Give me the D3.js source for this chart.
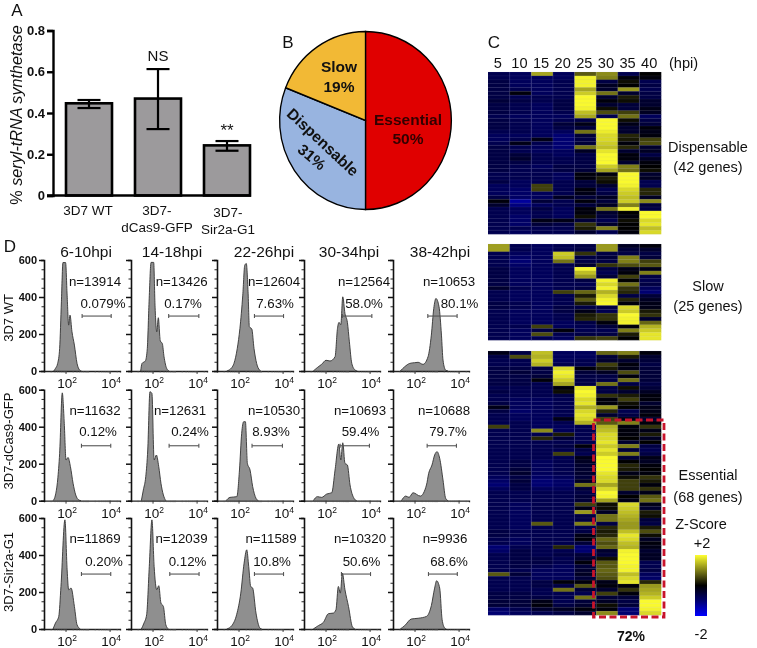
<!DOCTYPE html>
<html><head><meta charset="utf-8">
<script src="https://cdn.jsdelivr.net/npm/d3@7/dist/d3.min.js"></script>
<style>html,body{margin:0;background:#fff}svg{display:block;filter:blur(.35px)}text{font-family:"Liberation Sans",Arial,sans-serif;fill:#111}</style>
</head><body><div id="chart"></div>
<script>
// ---- Panel A
const barNames = [["3D7 WT"],["3D7-","dCas9-GFP"],["3D7-","Sir2a-G1"]];
const barValues = [0.447,0.470,0.243];
const barLow = [0.424,0.322,0.217];
const barHigh = [0.463,0.613,0.264];
const barMarks = ["","NS","**"];
const barTicks = [0,0.2,0.4,0.6,0.8];
// ---- Panel B
const pieNames = ["Essential","Dispensable","Slow"];
const pieShares = [50,31,19];
const pieColors = ["#e00000","#98b4e0","#f2b935"];
// ---- Panel C
const hpi = [5,10,15,20,25,30,35,40];
const heatDispensable = [
[-.7,-.8,1.3,-.8,.7,1.1,-.7,0],[-.7,-.8,-.8,-.8,1.9,1.0,-.1,-.1],[-.6,-.8,-.8,-.7,1.9,-.6,.1,-.7],[-.6,-.8,-.8,-.7,1.9,-.3,0,-.6],
[-.6,-.7,-.8,-.7,1.3,-.4,1.2,-.7],[-.6,-.1,-.8,-.7,1.6,.9,-.4,-.6],[-.6,-.7,-.7,-.7,1.95,-.4,.2,-.6],[-.5,-.6,-.7,-.6,1.95,-.1,.1,-.4],
[-.6,-.7,-.8,-.6,1.95,-.4,-.5,-.4],[-.6,-.7,-.8,-.6,1.9,.1,-.5,-.2],[-.6,-.7,-.8,-.7,1.5,.6,.5,-.3],[-.7,-.8,-.8,-.8,1.3,-.7,.9,-.8],
[-.6,-.7,-.8,-.7,-.6,1.95,.1,-.6],[-.6,-.7,-.8,-.5,-.2,1.95,-.2,-.5],[-.6,-.7,-.8,-.6,-.5,1.95,-.4,-.1],[-.7,-.7,-.8,-.8,.9,1.85,-.4,-.2],
[-.8,-.8,-.8,-1,-.5,1.7,.3,-.1],[-.8,-.7,-.2,-1,-.6,1.7,.2,.5],[-.7,-.2,-.7,-1,-.5,1.6,-.1,.6],[-.6,-.7,-.8,-1,.9,1.5,.3,-.4],
[-.6,-.7,-.8,-.8,-.3,1.8,-.4,-.3],[-.6,-.5,-.7,-.8,-.6,1.95,-.1,-.6],[-.6,-.4,-.7,-.7,-.6,1.95,-.1,-.3],[-.6,-.6,-.7,-.7,-.6,1.95,-.4,-.1],
[-.6,-.7,-.8,-.6,-.6,1.6,1.0,0],[-.6,-.7,-.7,-.6,-.5,1.3,.9,.1],[-.7,-.7,-.7,-.8,-.1,-.1,1.95,-.4],[-.7,-.7,-.7,-.8,-.1,.2,1.95,-.3],
[-.6,-.8,-.7,-.7,-.5,.1,1.95,-.7],[-.8,-.8,.5,-.7,-.5,-.4,1.9,-.7],[-.8,-.9,.5,-.7,-.1,-.7,1.7,.3],[-.8,-.9,-.8,-.7,-.2,-.6,1.6,.3],
[-.6,-.9,-.8,-.3,-.5,-.3,1.5,-.3],[-.1,-1.3,-.5,-.7,-.1,-.5,1.6,1.1],[-.4,-1.1,-.8,-.7,-.5,-.3,1.0,-.5],[-.7,-.8,-.6,-.8,-.1,.9,1.9,-.6],
[-.7,-.8,-.7,-.8,-.1,-.4,0,1.95],[-.7,-.9,-.7,-.8,.1,-.5,-.1,1.95],[-.7,-.9,-.2,-.2,-.5,-.7,.1,1.7],[-.7,-.9,-.5,-.6,.4,-.4,0,1.8],
[-.7,-.7,-.7,-.7,.2,1.0,0,1.5],[-.7,-.8,-.7,-.7,-.4,-.7,-.1,1.7]];
const heatSlow = [
[1.25,-.7,-.8,-.7,-.6,1.2,-.3,-.1],[1.25,-.7,-.8,-.7,-.6,1.2,-.5,-.4],[-.7,-.8,-.8,1.6,.4,-.6,-.6,-.6],[-.7,-.9,-.8,1.5,-.6,-.5,1.0,-.5],
[-.7,-1,-.8,.9,-.6,-.6,1.0,.5],[-.7,-.9,-.8,-.7,-.4,.4,.6,.7],[-.6,-.8,-.8,-.7,1.9,-.6,-.2,-.2],[-.6,-.8,-.8,-.7,1.5,-.7,-.1,1.0],
[-.6,-.8,-.8,-.7,1.2,-.5,.5,-.6],[-.6,-.8,-.8,-.7,-.6,1.9,0,-.7],[-.6,-.8,-.8,-.7,-.7,1.7,.9,-.6],[-.4,-.7,-.8,-.7,-.6,1.9,.4,-.8],
[-.7,-.8,-.8,.5,.8,1.4,.3,-1],[-.7,-.8,-.8,-.7,.2,1.7,-.6,-.5],[-.7,-.8,-.8,-.7,.7,1.9,.3,-.3],[-.6,-.7,-.8,-.7,.2,1.95,-.1,-.2],
[-.6,-.7,-.8,-.6,-.6,-.6,1.7,-.2],[-.7,-.8,-.8,-.6,-.2,-.7,1.6,.2],[-.7,-.8,-.8,-.7,.2,.4,1.95,.4],[-.7,-.8,-.8,-.7,.3,.4,1.9,-.4],
[-.7,-.8,-.8,-.8,-.6,-.1,1.9,.8],[-.7,-.7,.5,-.8,-.7,-.5,-.1,1.4],[-.7,-.8,-.6,-.1,-.7,-.7,1.0,1.6],[-.7,-.8,.6,-.7,-.6,-.6,.2,1.8],
[-.7,-.8,-.7,-.8,.4,.5,0,1.8]];
const heatEssential = [
[-.2,-.6,1.5,-.8,-.8,.8,1.0,-.1],[-.6,.6,1.4,-.8,-.8,-.5,.2,-.4],[-.7,-.7,1.6,-.8,-.7,-.4,-.4,-.5],[-.7,-.7,1.4,-.7,-.7,.5,-.1,-.6],
[-.6,-.6,-.6,1.7,-.1,.2,-.2,-.5],[-.6,-.5,-.6,1.9,-.5,-.3,.6,-.5],[-.6,-.6,-.5,1.8,-.6,-.6,-.1,-.5],[-.6,-.6,-.1,1.6,-.6,-.6,.9,-.5],
[-.6,-.6,-.7,1.3,-.6,.9,-.6,-.6],[-.7,-.7,-.7,-.1,1.8,-.6,.1,-.5],[-.6,-.7,-.7,.1,1.95,-.6,-.4,-.3],[-.7,-.7,-.7,-.6,1.9,.4,.2,-.1],
[-.7,-.8,-.8,-.7,1.7,-.1,.5,-.1],[-.6,-.8,-.8,-.7,1.8,-.1,.1,-.4],[-.2,-.8,-.8,-.7,1.4,1.2,0,-.2],[-.6,-.9,-.8,-.7,1.7,.3,-.7,-.2],
[-.7,-.8,-.8,-.7,1.8,-.4,-.6,-.1],[-.7,-.8,-.8,-.2,1.7,.5,-.2,-.4],[-.7,-.7,-.8,-.7,1.4,.7,1.0,-.1],[.5,-.7,-.8,-.8,-.7,1.4,-.1,.4],
[-.7,-.7,1.1,-.8,-.7,1.5,-.1,-.2],[-.7,-.7,-.7,.2,-.7,1.7,-.1,.2],[-.7,-.7,.3,-.5,-.7,1.7,0,-.3],[-.7,-.7,-.7,-.7,-.7,1.8,-.4,0],
[-.7,-.7,-.7,-.6,-.1,1.6,1.0,-.6],[-.7,-.7,-.7,-.7,-.6,1.8,-.5,-.7],[-.7,-.7,-.7,.5,-.7,1.6,1.0,-.6],[-.7,-.7,-.7,-.7,-.2,1.95,-.5,-.2],
[-.7,-.6,-.8,-.7,-.3,1.95,0,-.3],[-.7,-.6,-.8,-.7,-.4,1.95,.3,-.1],[-.7,-.5,-.8,-.7,-.4,1.95,.2,0],[-.7,-.4,-.8,-.7,-.4,1.8,-.2,-.1],
[-.8,-.6,-.9,-.8,-.5,1.7,.1,.4],[-.9,-.5,-1,-.9,-.3,1.7,.5,.2],[-1,-.6,-1,-.9,.9,1.3,.5,-.1],[-.8,-.6,-.8,-.8,-.5,1.7,.5,.4],
[-.7,-.7,-.7,-.7,-.6,1.95,-.4,-.2],[-.7,-.7,-.7,-.7,-.5,1.9,0,.7],[-.7,-.7,-.7,-.7,-.5,1.3,-.2,.9],[-.7,-.8,-.7,-.7,.5,.1,1.7,-.2],
[-.7,-.8,-.7,-.7,-.2,.1,1.6,-.4],[-.7,-.8,-.7,-.7,1.2,-.3,1.5,.2],[-.7,-.8,-.7,-.7,-.6,.9,1.4,.1],[-.7,-.8,-.7,-.7,-.6,.9,1.3,-.5],
[-.7,-.8,.7,-.7,1.0,-.6,1.2,-.6],[-.7,-.8,-.7,-.7,-.7,.3,1.2,.2],[-.6,-.7,-.7,-.7,-.6,.2,1.5,.6],[-.6,-.7,-.7,-.7,-.2,.3,1.8,.1],
[-.7,-.8,-.7,-.7,-.1,.8,1.7,-.3],[-.7,-.8,-.7,-.7,-.5,.6,1.5,-.1],[-1,-.7,-.7,.3,-1,.8,1.4,-.2],[-.9,-.6,-.7,-.7,-1,-.4,1.9,-.4],
[-.7,-.6,-.7,-.6,-.5,-.5,1.95,-.3],[-.7,-.6,-.6,-.7,-.4,.1,1.95,-.3],[-.7,-.6,-.6,-.7,-.1,.7,1.95,-.7],[-.7,-.6,-.7,-.8,-.5,.7,1.9,-.7],
[-.7,-.7,-.8,-.8,-.4,.8,1.9,-.6],[.7,-.5,-.8,-.8,-.3,.7,1.5,-.8],[-.7,-.7,-.8,-.8,-.5,.6,1.7,-.9],[-.7,-.7,-.6,-.1,-.1,-.2,1.8,.3],
[-.7,-.7,-.6,-.6,.7,-.1,-.1,1.2],[-.7,-.7,-.7,.9,-.5,-.4,.4,1.3],[-.6,-.6,-.7,-.7,-.7,.5,-.1,1.4],[-.6,-.6,-.6,-.7,.9,-.5,-.5,1.6],
[-.5,-.5,-.2,-.7,-.5,-.3,-.6,1.95],[-.5,-.5,-.1,-.6,-.4,.1,-.5,1.95],[-.9,-.7,-.4,-.3,-.1,-.1,-1,1.9],[-1,-.8,-.7,-.6,-.4,1.1,-1,1.7]];
const zoneLabels = [["Dispensable","(42 genes)"],["Slow","(25 genes)"],["Essential","(68 genes)"]];
// ---- Panel D: [log10 fluorescence, events]
const timeLabels = ["6-10hpi","14-18hpi","22-26hpi","30-34hpi","38-42hpi"];
const strainLabels = ["3D7 WT","3D7-dCas9-GFP","3D7-Sir2a-G1"];
const flowWt = [
[[1.44,0],[1.52,14],[1.62,41],[1.71,122],[1.79,374],[1.86,586],[1.98,586],[2.05,410],[2.12,248],[2.18,302],[2.27,212],[2.38,140],[2.5,41],[2.62,5],[2.7,0]],
[[1.44,0],[1.5,41],[1.65,54],[1.74,122],[1.82,374],[1.91,587],[2.03,587],[2.09,356],[2.17,212],[2.24,288],[2.33,162],[2.42,149],[2.5,77],[2.62,14],[2.73,0]],
[[1.44,0],[1.67,18],[1.77,41],[1.92,122],[2.04,230],[2.17,410],[2.26,572],[2.33,581],[2.41,428],[2.47,239],[2.58,227],[2.68,122],[2.8,41],[2.93,5],[2.99,0]],
[[1.42,0],[1.6,18],[1.8,36],[2,58],[2.18,54],[2.41,77],[2.52,230],[2.59,263],[2.67,250],[2.76,401],[2.86,311],[2.97,263],[3.06,158],[3.17,41],[3.32,5],[3.42,0]],
[[1.33,0],[1.53,23],[1.76,41],[1.98,45],[2.14,47],[2.36,36],[2.59,77],[2.74,194],[2.85,338],[2.95,392],[3.09,347],[3.2,194],[3.27,59],[3.39,5],[3.5,0]]];
const flowDcas = [
[[1.41,0],[1.52,31],[1.62,112],[1.71,256],[1.83,583],[1.92,418],[2,220],[2.09,234],[2.2,184],[2.32,94],[2.44,31],[2.58,4],[2.68,0]],
[[1.47,0],[1.56,58],[1.67,130],[1.76,274],[1.86,589],[1.95,580],[2.05,220],[2.15,247],[2.26,184],[2.36,94],[2.47,31],[2.58,0]],
[[1.41,0],[1.59,18],[1.9,22],[2.02,166],[2.12,364],[2.21,427],[2.29,427],[2.38,202],[2.5,166],[2.62,76],[2.77,13],[2.88,0]],
[[1.42,0],[1.61,22],[1.8,18],[2.03,36],[2.26,43],[2.41,166],[2.58,306],[2.67,220],[2.76,313],[2.86,202],[2.97,193],[3.09,85],[3.27,13],[3.39,0]],
[[1.38,0],[1.58,25],[1.73,18],[1.91,43],[2.24,25],[2.52,85],[2.62,148],[2.77,193],[2.89,247],[3,265],[3.12,229],[3.27,112],[3.39,13],[3.5,0]]];
const flowSir = [
[[1.41,0],[1.52,32],[1.67,68],[1.77,230],[1.95,590],[2.05,320],[2.12,212],[2.23,221],[2.38,122],[2.5,23],[2.65,0]],
[[1.47,0],[1.59,32],[1.71,77],[1.83,338],[1.95,590],[2.05,338],[2.17,212],[2.26,234],[2.36,140],[2.47,122],[2.58,23],[2.7,0]],
[[1.44,0],[1.67,18],[1.89,77],[2.08,194],[2.23,356],[2.35,428],[2.44,338],[2.53,230],[2.62,221],[2.77,86],[2.95,5],[3.03,0]],
[[1.42,0],[1.65,18],[1.88,36],[2.11,83],[2.33,86],[2.45,104],[2.56,230],[2.65,194],[2.74,302],[2.86,212],[3.02,122],[3.2,11],[3.32,0]],
[[1.33,0],[1.53,18],[1.83,54],[2.14,58],[2.52,68],[2.74,126],[2.89,221],[2.98,261],[3.12,221],[3.23,50],[3.35,5],[3.42,0]]];
const flowRows = [flowWt,flowDcas,flowSir];
const gateRanges = [
[[2.73,4.05],[2.71,4.08],[2.70,4.02],[2.74,4.08],[2.58,3.91]],
[[2.70,4.03],[2.73,4.08],[2.59,3.97],[2.64,3.97],[2.55,3.88]],
[[2.70,4.03],[2.76,4.09],[2.70,4.02],[2.70,4.02],[2.61,3.92]]];
const gateLevel = [297,297,297];
const eventCounts = [[13914,13426,12604,12564,10653],[11632,12631,10530,10693,10688],[11869,12039,11589,10320,9936]];
const percentLabels = [["0.079%","0.17%","7.63%","58.0%","80.1%"],["0.12%","0.24%","8.93%","59.4%","79.7%"],["0.20%","0.12%","10.8%","50.6%","68.6%"]];

// ---- layout (separate from the data)
const svg = d3.select("#chart").append("svg").attr("width",757).attr("height",648).attr("viewBox","0 0 757 648");
const txt = (g,x,y,s,size,opt={}) => g.append("text").attr("x",x).attr("y",y).attr("text-anchor",opt.anchor||"middle")
  .attr("dominant-baseline","central").attr("font-size",size).attr("font-weight",opt.bold?"bold":null).attr("font-style",opt.italic?"italic":null).text(s);

[["A",17,10],["B",288,42],["C",494,42],["D",10,246]].forEach(d=>txt(svg,d[1],d[2],d[0],17));

// Panel A
{
  const g = svg.append("g");
  const y = d3.scaleLinear().domain([0,0.8]).range([195.5,30.5]);
  const xc = i => [89,158,227][i];
  const bw = 46;
  g.selectAll("rect.bar").data(barValues).join("rect").attr("x",(d,i)=>xc(i)-bw/2).attr("width",bw)
    .attr("y",d=>y(d)).attr("height",d=>y(0)-y(d)).attr("fill","#9c9a9c").attr("stroke","#000").attr("stroke-width",2.6);
  barValues.forEach((v,i)=>{
    const cx = xc(i);
    g.append("line").attr("x1",cx).attr("x2",cx).attr("y1",y(barLow[i])).attr("y2",y(barHigh[i])).attr("stroke","#000").attr("stroke-width",2.2);
    [barLow[i],barHigh[i]].forEach(e=>g.append("line").attr("x1",cx-11.5).attr("x2",cx+11.5).attr("y1",y(e)).attr("y2",y(e)).attr("stroke","#000").attr("stroke-width",2.2));
    barNames[i].forEach((s,k)=>txt(g,[88,157,228][i],[210,210,212][i]+k*17,s,13.5));
  });
  const ax = g.append("g").attr("transform","translate(53,0)").call(d3.axisLeft(y).tickValues(barTicks).tickSize(6).tickFormat(d=>d===0?"0":d3.format(".1f")(d)));
  ax.selectAll("path,line").attr("stroke","#000").attr("stroke-width",2.4);
  ax.selectAll("text").attr("font-size",13).attr("font-weight","bold").attr("font-family",'"Liberation Sans"').attr("x",-8);
  g.append("line").attr("x1",47).attr("x2",251).attr("y1",y(0)).attr("y2",y(0)).attr("stroke","#000").attr("stroke-width",2.4);
  txt(g,158,55,barMarks[1],15);
  txt(g,227,130,barMarks[2],17);
  const t = g.append("text").attr("transform","translate(16,115) rotate(-90)").attr("text-anchor","middle").attr("dominant-baseline","central").attr("font-size",16.2);
  t.append("tspan").text("% ");
  t.append("tspan").attr("font-style","italic").text("seryl-tRNA synthetase");
}

// Panel B
{
  const g = svg.append("g").attr("transform","translate(365.5,120.5) scale(.965,1)");
  const pie = d3.pie().sort(null)(pieShares);
  const arc = d3.arc().innerRadius(0).outerRadius(89);
  g.selectAll("path").data(pie).join("path").attr("d",arc).attr("fill",(d,i)=>pieColors[i]).attr("stroke","#000").attr("stroke-width",1.4);
  const lab = svg.append("g");
  const boldT = (x,y,s,rot=0)=>lab.append("text").attr("transform",`translate(${x},${y}) rotate(${rot})`).attr("text-anchor","middle").attr("dominant-baseline","central").attr("font-size",15.5).attr("font-weight","bold").text(s);
  boldT(339,66,pieNames[2]); boldT(339,86,pieShares[2]+"%");
  boldT(408,119,pieNames[0]).style("fill","#300"); boldT(408,138.5,pieShares[0]+"%").style("fill","#300");
  boldT(323,142,pieNames[1],43); boldT(312,157,pieShares[1]+"%",40);
}

// Panel C
{
  const g = svg.append("g");
  const color = d3.scaleLinear().domain([-2,-1,0,2]).range(["#0000ff","#000070","#000000","#ffff30"]).clamp(true);
  const x = d3.scaleBand().domain(hpi).range([488,661]);
  const blocks = [[heatDispensable,72,234],[heatSlow,244,340],[heatEssential,351,615]];
  blocks.forEach(([rows,y0,y1],bi)=>{
    const y = d3.scaleBand().domain(d3.range(rows.length)).range([y0,y1]);
    const b = g.append("g");
    rows.forEach((r,ri)=>b.selectAll(null).data(r).join("rect").attr("x",(d,i)=>x(hpi[i])).attr("y",y(ri)).attr("width",x.bandwidth()+.3).attr("height",y.bandwidth()+.3).attr("fill",d=>color(d)));
    b.selectAll("line.h").data(d3.range(rows.length+1)).join("line").attr("x1",488).attr("x2",661).attr("y1",d=>y0+d*y.step()).attr("y2",d=>y0+d*y.step()).attr("stroke","#9a9ad8").attr("stroke-opacity",.16).attr("stroke-width",.6);
    b.selectAll("line.v").data(hpi.slice(1)).join("line").attr("x1",d=>x(d)).attr("x2",d=>x(d)).attr("y1",y0).attr("y2",y1).attr("stroke","#a8a8e0").attr("stroke-opacity",.3).attr("stroke-width",.7);
  });
  hpi.forEach(h=>txt(g,x(h)+x.bandwidth()/2-1,63,String(h),14.6));
  txt(g,669,63,"(hpi)",14.6,{anchor:"start"});
  [[147,167],[286,306],[475,497]].forEach((ys,i)=>zoneLabels[i].forEach((s,k)=>txt(g,708,ys[k],s,14.5)));
  g.append("rect").attr("x",593.5).attr("y",420).attr("width",70.5).attr("height",197).attr("fill","none").attr("stroke","#c8142c").attr("stroke-width",2.8).attr("stroke-dasharray","7 3.5");
  const defs = svg.append("defs");
  const grad = defs.append("linearGradient").attr("id","zgrad").attr("x1",0).attr("x2",0).attr("y1",0).attr("y2",1);
  [2,1,0,-1,-2].forEach((z,i)=>grad.append("stop").attr("offset",(i/4*100)+"%").attr("stop-color",color(z)));
  g.append("rect").attr("x",695).attr("y",555).attr("width",12).attr("height",61).attr("fill","url(#zgrad)");
  txt(g,701,524,"Z-Score",14.5); txt(g,702,543,"+2",14.5); txt(g,701,634,"-2",14.5);
  txt(g,631,636,"72%",14,{bold:true});
}

// Panel D
{
  const g = svg.append("g");
  const axisX = [44,131,217,304,393];
  const zeroY = [371,500.7,629];
  const titleX = [86,172,264,349,440];
  const nX = [[95,181.7,274,364,449],[95,180,274,360,444],[95,181.5,271,360,445]];
  const pX = [[103,183,275,364,459.5],[98,190,271,360.5,448],[104,187.5,272,361.5,449]];
  const nY = [281,410,538], pY = [303,431,561];
  const rowLabelY = [318,441,572];
  timeLabels.forEach((s,i)=>txt(g,titleX[i],251,s,15.5));
  strainLabels.forEach((s,i)=>g.append("text").attr("transform",`translate(8,${rowLabelY[i]}) rotate(-90)`).attr("text-anchor","middle").attr("dominant-baseline","central").attr("font-size",13).text(s));
  const minors = [];
  for (let e=1;e<=4;e++) for (let m=1;m<10;m++) { const v=m*10**e; if (v<10**4.45) minors.push(v); }
  const yTicks = d3.range(0,601,50);
  flowRows.forEach((row,r)=>row.forEach((pts,c)=>{
    const p = g.append("g").attr("transform",`translate(${axisX[c]},${zeroY[r]})`);
    const x = d3.scaleLog().domain([10,10**4.45]).range([0,76]);
    const y = d3.scaleLinear().domain([0,600]).range([0,-111]);
    const area = d3.area().x(d=>x(10**d[0])).y0(0).y1(d=>y(d[1])).curve(d3.curveMonotoneX);
    const line = d3.line().x(d=>x(10**d[0])).y(d=>y(d[1])).curve(d3.curveMonotoneX);
    p.append("path").attr("d",area(pts)).attr("fill","#8f8f8f");
    p.append("path").attr("d",line(pts)).attr("fill","none").attr("stroke","#333").attr("stroke-width",.9);
    const [a,b] = gateRanges[r][c], gy = y(gateLevel[r]);
    const gate = p.append("g").attr("stroke","#555").attr("stroke-width",1.1);
    gate.append("line").attr("x1",x(10**a)).attr("x2",x(10**b)).attr("y1",gy).attr("y2",gy);
    [a,b].forEach(v=>gate.append("line").attr("x1",x(10**v)).attr("x2",x(10**v)).attr("y1",gy-2).attr("y2",gy+2));
    const ax = p.append("g").call(d3.axisBottom(x).tickValues(minors).tickSize(1.5).tickFormat(""));
    ax.selectAll("line").attr("stroke","#555").attr("stroke-width",.6);
    ax.selectAll("path").attr("stroke","#222").attr("stroke-width",1.3);
    [[100,"2"],[10000,"4"]].forEach(([v,sup])=>{
      p.append("line").attr("x1",x(v)).attr("x2",x(v)).attr("y1",0).attr("y2",3).attr("stroke","#333").attr("stroke-width",.9);
      const t = p.append("text").attr("x",x(v)+1).attr("y",17).attr("text-anchor","middle").attr("font-size",13.5);
      t.append("tspan").text("10");
      t.append("tspan").attr("font-size",8.5).attr("dy",-5).text(sup);
    });
    const ya = p.append("g").call(d3.axisLeft(y).tickValues(yTicks).tickSize(3).tickFormat(d=>(c===0&&d%200===0)?d:""));
    ya.selectAll("path").attr("stroke","#111").attr("stroke-width",1.6);
    ya.selectAll("line").attr("stroke","#111").attr("stroke-width",d=>d%200===0?1.5:.9).attr("x2",d=>d%200===0?-5:-2.5);
    ya.selectAll("text").attr("x",-7).attr("font-size",11).attr("font-weight","bold").attr("font-family",'"Liberation Sans"');
    txt(g,nX[r][c],nY[r],"n="+eventCounts[r][c],13.3);
    txt(g,pX[r][c],pY[r],percentLabels[r][c],13.3);
  }));
}
</script></body></html>
